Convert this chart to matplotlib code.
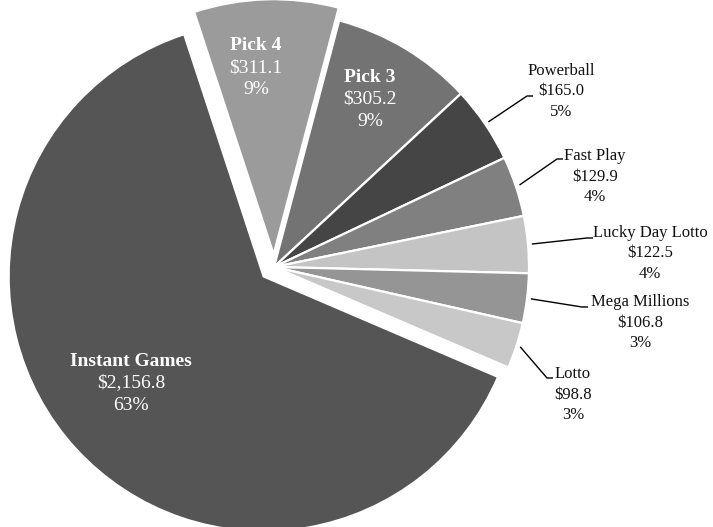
import numpy as np
import matplotlib
matplotlib.use("Agg")
import matplotlib.pyplot as plt

games = ["Instant Games", "Pick 4", "Pick 3", "Powerball", "Fast Play",
         "Lucky Day Lotto", "Mega Millions", "Lotto"]
sales = [2156.8, 311.1, 305.2, 165.0, 129.9, 122.5, 106.8, 98.8]
pct_labels = ["63%", "9%", "9%", "5%", "4%", "4%", "3%", "3%"]

colors = ["#555555", "#9b9b9b", "#737373", "#454545", "#808080",
          "#c4c4c4", "#959595", "#c8c8c8"]
explode_frac = [0.055, 0.05, 0, 0, 0, 0, 0, 0]

W, H = 713, 527
plt.rcParams['font.family'] = ['Liberation Serif', 'DejaVu Serif']

fig = plt.figure(figsize=(W / 100, H / 100), dpi=100)
ax = fig.add_axes([0, 0, 1, 1])

R = 255
cx, cy = 274, H - 267
# matplotlib's explode is in data units, not radius fractions
explode = [e * R for e in explode_frac]
wedges, _ = ax.pie(sales, colors=colors, explode=explode, radius=R,
                   center=(cx, cy), startangle=-23.2, counterclock=False,
                   wedgeprops=dict(edgecolor='white', linewidth=1.6),
                   frame=True)
ax.set_xlim(0, W)
ax.set_ylim(0, H)
ax.set_aspect('equal')
ax.axis('off')

def py(y):
    # pixel row (from top) to data y
    return H - y

# inside labels: (x, y of first line) in pixels from top
inside_pos = {0: (131, 361), 1: (256, 46), 2: (370, 77)}
for i, (x, y) in inside_pos.items():
    ax.text(x, py(y), games[i], ha='center', va='center', color='white',
            fontsize=14, fontweight='bold')
    ax.text(x, py(y + 22), "${:,.1f}".format(sales[i]), ha='center',
            va='center', color='white', fontsize=14)
    ax.text(x, py(y + 44), pct_labels[i], ha='center', va='center',
            color='white', fontsize=14)

# outside labels: text center x, first line y, elbow point, stub end
outside = {
    3: (561, 71, (527, 96), (533, 96)),
    4: (595, 156, (557, 159), (563, 159)),
    5: (650, 233, (587, 238), (593, 238)),
    6: (640, 302, (582, 307), (588, 307)),
    7: (573, 374, (547, 378), (553, 378)),
}
for i, (x, y, elbow, end) in outside.items():
    w = wedges[i]
    mid = np.deg2rad((w.theta1 + w.theta2) / 2)
    ax0 = w.center[0] + R * 1.015 * np.cos(mid)
    ay0 = w.center[1] + R * 1.015 * np.sin(mid)
    ax.plot([ax0, elbow[0], end[0]], [ay0, py(elbow[1]), py(end[1])],
            color='black', linewidth=1.0, solid_capstyle='butt')
    ax.text(x, py(y), games[i], ha='center', va='center', color='#111111',
            fontsize=12)
    ax.text(x, py(y + 20.5), "${:,.1f}".format(sales[i]), ha='center',
            va='center', color='#111111', fontsize=12)
    ax.text(x, py(y + 41), pct_labels[i], ha='center', va='center',
            color='#111111', fontsize=12)

fig.savefig('out.png', dpi=100, facecolor='white')
